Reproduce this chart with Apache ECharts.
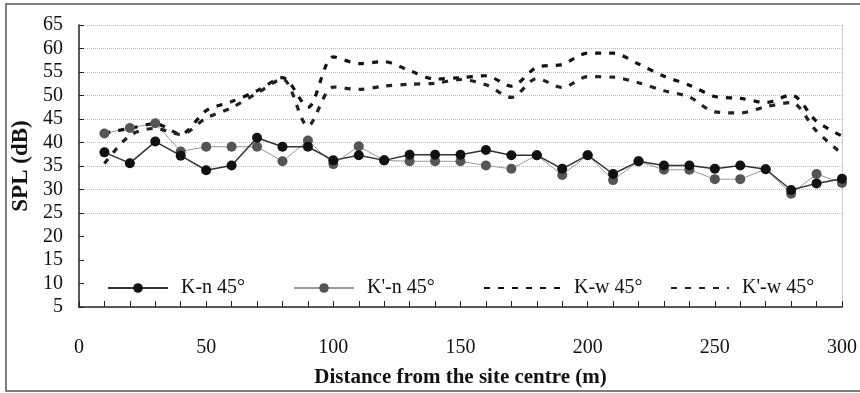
<!DOCTYPE html>
<html lang="en">
<head>
<meta charset="UTF-8">
<title>SPL vs distance</title>
<script src="https://cdn.jsdelivr.net/npm/echarts@6/dist/echarts.min.js"></script>
<style>
	html, body { margin: 0; padding: 0; background: #fff; }
	#chart { width: 860px; height: 393px; }
</style>
</head>
<body>
<div id="chart"></div>
<script>
	// distance from site centre (m)
	var distance = [10, 20, 30, 40, 50, 60, 70, 80, 90, 100, 110, 120, 130, 140, 150,
		160, 170, 180, 190, 200, 210, 220, 230, 240, 250, 260, 270, 280, 290, 300];

	var kn45 = [37.9, 35.6, 40.2, 37.2, 34.1, 35.1, 41.0, 39.1, 39.1, 36.2, 37.3, 36.2, 37.4, 37.4, 37.4,
		38.4, 37.3, 37.3, 34.4, 37.3, 33.3, 36.0, 35.1, 35.1, 34.4, 35.1, 34.3, 29.9, 31.3, 32.3];
	var kpn45 = [41.9, 43.1, 44.1, 38.1, 39.1, 39.1, 39.1, 36.0, 40.4, 35.4, 39.2, 36.2, 36.0, 36.0, 36.0,
		35.1, 34.4, 37.3, 33.1, 37.3, 32.0, 36.0, 34.2, 34.2, 32.2, 32.2, 34.3, 29.1, 33.3, 31.4];
	var kw45 = [42.0, 43.0, 44.0, 41.8, 46.8, 48.7, 51.0, 53.8, 47.5, 58.2, 56.8, 57.2, 55.3, 53.5, 53.8,
		54.2, 52.0, 56.0, 56.6, 59.0, 59.0, 56.7, 54.1, 52.2, 49.8, 49.4, 48.5, 50.1, 44.5, 41.4];
	var kpw45 = [35.5, 41.5, 43.0, 41.7, 45.2, 47.4, 50.5, 53.5, 43.5, 51.8, 51.3, 52.0, 52.4, 52.6, 53.4,
		52.3, 49.6, 53.6, 51.7, 54.0, 53.9, 52.7, 51.0, 49.7, 46.5, 46.3, 47.6, 48.5, 42.4, 37.6];

	var seriesNames = ['K-n 45°', "K'-n 45°", 'K-w 45°', "K'-w 45°"];

	function pairs(vals) {
		return distance.map(function (d, i) { return [d, vals[i]]; });
	}

	var serif = 'Liberation Serif';
	var chart = echarts.init(document.getElementById('chart'));

	// one legend per entry so each sits where it is in the figure
	function legendAt(name, left, width, hideSymbol) {
		var item = { name: name };
		if (hideSymbol) item.itemStyle = { opacity: 0 };
		return {
			left: left, top: 273,
			itemWidth: width, itemHeight: 12,
			textStyle: { fontFamily: serif, fontSize: 20, color: '#111', padding: [0, 0, 0, 8] },
			data: [item]
		};
	}

	var option = {
		animation: false,
		backgroundColor: '#fff',
		textStyle: { fontFamily: serif, color: '#111' },
		graphic: [{
			type: 'rect',
			shape: { x: 6, y: 4, width: 860, height: 387 },
			style: { fill: 'none', stroke: '#555', lineWidth: 1.5 },
			silent: true
		}],
		grid: { left: 79, right: 15, top: 25, bottom: 80 },
		legend: [
			legendAt(seriesNames[0], 102, 60, false),
			legendAt(seriesNames[1], 288, 60, false),
			legendAt(seriesNames[2], 478, 77, true),
			legendAt(seriesNames[3], 665, 58, true)
		],
		xAxis: {
			type: 'value', min: 0, max: 300, interval: 50,
			name: 'Distance from the site centre (m)',
			nameLocation: 'middle', nameGap: 60,
			nameTextStyle: { fontFamily: serif, fontSize: 21, fontWeight: 'bold', color: '#111' },
			axisLine: { lineStyle: { color: '#222', width: 1.5 } },
			axisTick: { inside: true, length: 6, lineStyle: { color: '#222' } },
			minorTick: { show: true, splitNumber: 5, length: 6, lineStyle: { color: '#222' } },
			axisLabel: { fontFamily: serif, fontSize: 20, color: '#111', margin: 31 },
			splitLine: { show: false }
		},
		yAxis: [{
			type: 'value', min: 5, max: 65, interval: 5,
			name: 'SPL (dB)',
			nameLocation: 'middle', nameGap: 39,
			nameTextStyle: { fontFamily: serif, fontSize: 23, fontWeight: 'bold', color: '#111' },
			axisLine: { show: true, lineStyle: { color: '#222', width: 1.5 } },
			axisTick: { inside: true, length: 5, lineStyle: { color: '#222' } },
			axisLabel: { fontFamily: serif, fontSize: 20, color: '#111', margin: 16 },
			// lines under the legend box (5-20 dB) are hidden as in the figure
			splitLine: {
				show: true,
				lineStyle: {
					type: 'dotted', width: 1,
					color: ['rgba(0,0,0,0)', 'rgba(0,0,0,0)', 'rgba(0,0,0,0)', 'rgba(0,0,0,0)',
						'#bbb', '#bbb', '#bbb', '#bbb', '#bbb', '#bbb', '#bbb', '#bbb', '#bbb']
				}
			}
		}, {
			type: 'value', min: 5, max: 65, interval: 5, position: 'right',
			axisLine: { show: true, lineStyle: { color: '#ccc', width: 1 } },
			axisTick: { show: false },
			axisLabel: { show: false },
			splitLine: { show: false }
		}],
		series: [
			{
				name: seriesNames[0], type: 'line', data: pairs(kn45),
				symbol: 'circle', symbolSize: 10,
				itemStyle: { color: '#111' },
				lineStyle: { color: '#333', width: 1.5 },
				z: 4
			},
			{
				name: seriesNames[1], type: 'line', data: pairs(kpn45),
				symbol: 'circle', symbolSize: 10,
				itemStyle: { color: '#555' },
				lineStyle: { color: '#999', width: 1 },
				z: 3
			},
			{
				name: seriesNames[2], type: 'line', data: pairs(kw45),
				symbol: 'none', smooth: 0.3,
				itemStyle: { color: '#111' },
				lineStyle: { color: '#111', width: 3.2, type: [6, 8] }
			},
			{
				name: seriesNames[3], type: 'line', data: pairs(kpw45),
				symbol: 'none', smooth: 0.3,
				itemStyle: { color: '#222' },
				lineStyle: { color: '#222', width: 3.2, type: [6, 8] }
			}
		]
	};

	chart.setOption(option);
</script>
</body>
</html>
